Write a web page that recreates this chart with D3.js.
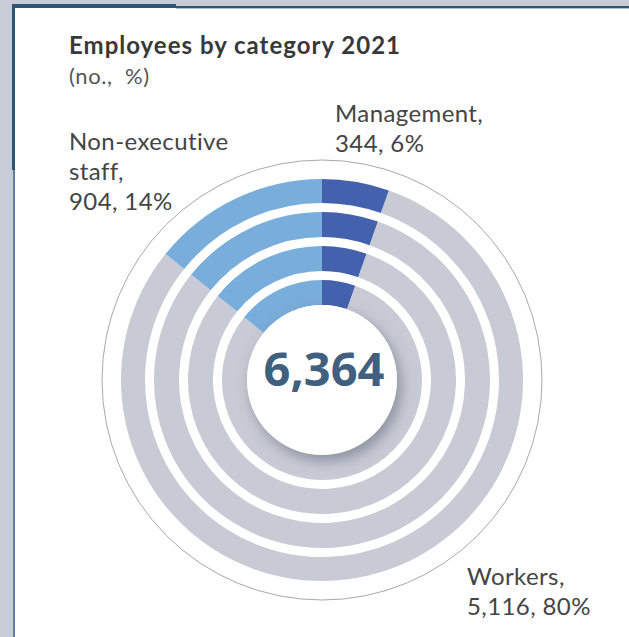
<!DOCTYPE html>
<html>
<head>
<meta charset="utf-8">
<script src="https://cdn.jsdelivr.net/npm/d3@7"></script>
<style>
  html, body { margin: 0; padding: 0; background: #c8ccd7; }
  svg { display: block; }
</style>
</head>
<body>
<svg id="chart" width="629" height="637"></svg>
<script>
// Employees by category, 2021
const categories = ["Management", "Workers", "Non-executive staff"];
const employees = [344, 5116, 904];
const shares = ["6%", "80%", "14%"];
const colors = ["#4361ad", "#c8cbd5", "#79addb"];
const total = d3.sum(employees);

const svg = d3.select("#chart");
const W = 629, H = 637;

// card
svg.append("rect").attr("x", 0).attr("y", 0).attr("width", W).attr("height", H).attr("fill", "#c8ccd7");
svg.append("rect").attr("x", 13).attr("y", 6).attr("width", W).attr("height", H).attr("fill", "#ffffff");
// card edges
svg.append("rect").attr("x", 176).attr("y", 6).attr("width", W).attr("height", 2).attr("fill", "#2f5574");
svg.append("rect").attr("x", 176).attr("y", 8).attr("width", W).attr("height", 1).attr("fill", "#a9c0d4");
svg.append("rect").attr("x", 12).attr("y", 4).attr("width", 164).attr("height", 4).attr("fill", "#2f5574");
svg.append("rect").attr("x", 12).attr("y", 4).attr("width", 3).attr("height", 166).attr("fill", "#2f5574");
svg.append("rect").attr("x", 13).attr("y", 170).attr("width", 2).attr("height", H).attr("fill", "#5f7f9b");

const defs = svg.append("defs");
const f = defs.append("filter").attr("id", "hubShadow")
  .attr("x", "-30%").attr("y", "-30%").attr("width", "170%").attr("height", "170%");
f.append("feDropShadow").attr("dx", 4).attr("dy", 6).attr("stdDeviation", 7)
  .attr("flood-color", "#5a6170").attr("flood-opacity", 0.55);

// title
svg.append("text").attr("x", 69).attr("y", 54)
  .attr("font-family", "Lato, 'Open Sans', sans-serif").attr("font-weight", 700)
  .attr("font-size", 24).attr("letter-spacing", 1).attr("fill", "#383838")
  .text("Employees by category 2021");
svg.append("text").attr("x", 69).attr("y", 84)
  .attr("font-family", "Lato, 'Open Sans', sans-serif").attr("font-weight", 400)
  .attr("font-size", 22).attr("letter-spacing", 0.6).attr("fill", "#555555")
  .style("white-space", "pre")
  .text("(no.,  %)");

const cx = 322, cy = 380;
const g = svg.append("g").attr("transform", `translate(${cx},${cy})`);

// outer guide circle
g.append("circle").attr("r", 220).attr("fill", "none").attr("stroke", "#a8a8a8").attr("stroke-width", 1);

const pie = d3.pie().sort(null).value(d => d)(employees);
const rings = [[177, 201], [143, 168], [109, 134], [75, 100]];

rings.forEach(([ri, ro]) => {
  const arc = d3.arc().innerRadius(ri).outerRadius(ro);
  g.append("g").selectAll("path").data(pie).join("path")
    .attr("d", arc)
    .attr("fill", (d, i) => colors[i]);
});

// central hub
g.append("circle").attr("r", 75).attr("fill", "#ffffff").attr("filter", "url(#hubShadow)");
g.append("text").attr("x", 2).attr("y", 6).attr("text-anchor", "middle")
  .attr("font-family", "'Open Sans', Lato, sans-serif").attr("font-weight", 700)
  .attr("font-size", 47).attr("fill", "#415f7e")
  .text(d3.format(",")(total));

// labels
const fmt = d3.format(",");
const labelFont = "Lato, 'Open Sans', sans-serif";
const labels = [
  { x: 335, y: 122, lines: [categories[0] + ",", fmt(employees[0]) + ", " + shares[0]] },
  { x: 69, y: 150, lines: ["Non-executive", "staff,", fmt(employees[2]) + ", " + shares[2]] },
  { x: 467, y: 585, lines: [categories[1] + ",", fmt(employees[1]) + ", " + shares[1]] }
];
labels.forEach(l => {
  const t = svg.append("text").attr("font-family", labelFont).attr("font-weight", 400)
    .attr("font-size", 24).attr("letter-spacing", 0.4).attr("fill", "#444444");
  l.lines.forEach((s, i) => {
    t.append("tspan").attr("x", l.x).attr("y", l.y + i * 30).text(s);
  });
});
</script>
</body>
</html>
